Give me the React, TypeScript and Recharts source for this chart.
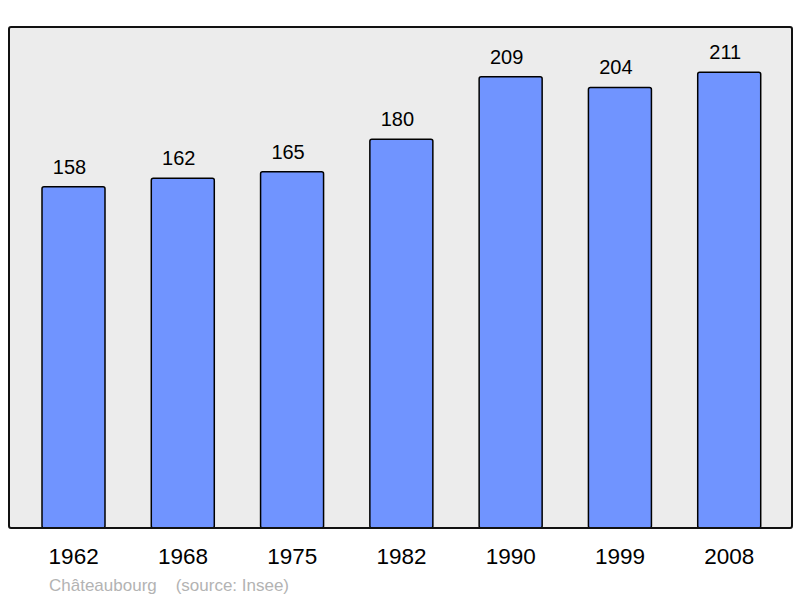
import { BarChart, Bar, XAxis, YAxis, LabelList } from "recharts";

const years = ["1962", "1968", "1975", "1982", "1990", "1999", "2008"];
const population = [158, 162, 165, 180, 209, 204, 211];

const data = years.map((year, i) => ({ year, population: population[i] }));

export default function App() {
  return (
    <div
      style={{
        position: "absolute",
        left: 0,
        top: 0,
        width: 800,
        height: 598,
        background: "#fff",
        fontFamily: "'Liberation Sans', Arial, sans-serif",
      }}
    >
      {/* plot background */}
      <div
        style={{
          position: "absolute",
          left: 9,
          top: 27,
          width: 783,
          height: 501,
          background: "#ececec",
          borderRadius: 3,
        }}
      />
      <BarChart
        width={800}
        height={598}
        data={data}
        margin={{ top: 27, right: 8, left: 9, bottom: 0 }}
        barSize={63}
        style={{ position: "absolute", left: 0, top: 0 }}
      >
        <YAxis hide domain={[0, 232]} />
        <XAxis
          dataKey="year"
          height={70}
          axisLine={false}
          tickLine={false}
          tickSize={0}
          tickMargin={20}
          padding={{ left: 10, right: 8 }}
          tick={{ fontSize: 22.5, fill: "#000" }}
        />
        <Bar
          dataKey="population"
          fill="#7094ff"
          stroke="#000"
          strokeWidth={1.5}
          radius={2}
          isAnimationActive={false}
        >
          <LabelList
            dataKey="population"
            position="top"
            offset={13}
            dx={-4}
            style={{ fontSize: 20, fill: "#000" }}
          />
        </Bar>
      </BarChart>
      {/* frame */}
      <div
        style={{
          position: "absolute",
          left: 8,
          top: 26,
          width: 785,
          height: 503,
          border: "2px solid #111",
          borderRadius: 3,
          boxSizing: "border-box",
          pointerEvents: "none",
        }}
      />
      <div
        style={{
          position: "absolute",
          left: 49,
          top: 576,
          fontSize: 17,
          color: "#b3b3b3",
          whiteSpace: "pre",
        }}
      >
        {"Châteaubourg    (source: Insee)"}
      </div>
    </div>
  );
}
